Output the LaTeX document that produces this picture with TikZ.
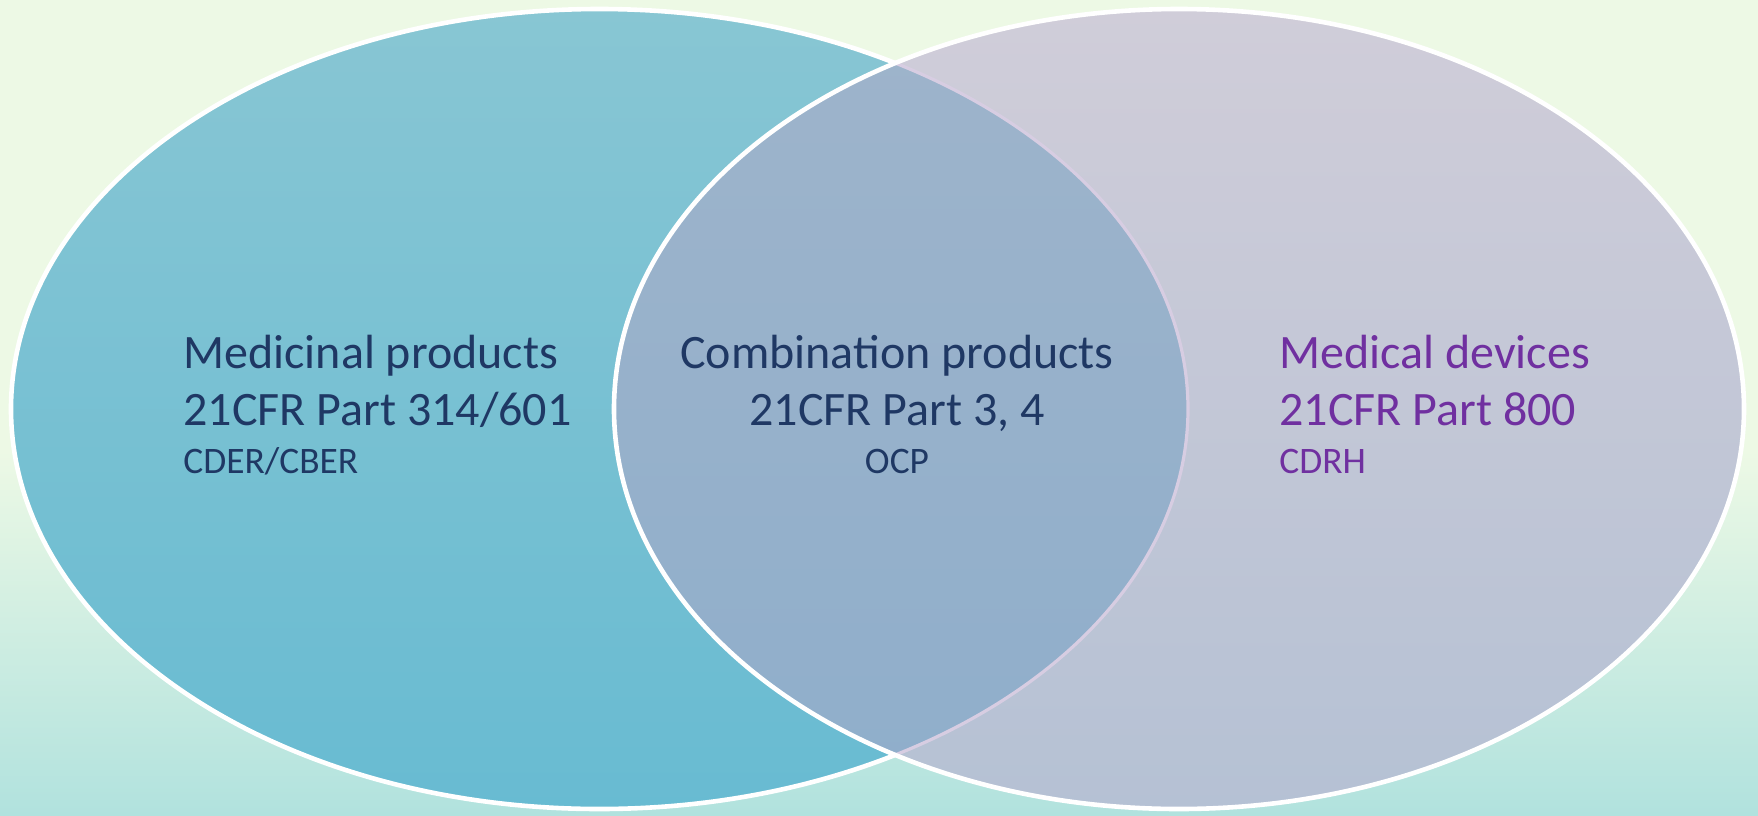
\documentclass[tikz,border=0pt]{standalone}
\usepackage{fontspec}
\setmainfont{Carlito}
\definecolor{bgtop}{HTML}{EDF9E5}
\definecolor{bgbot}{HTML}{B1E2DE}
\definecolor{drugtop}{HTML}{88C6D3}
\definecolor{drugbot}{HTML}{68BBD2}
\definecolor{devtop}{HTML}{D0CDD9}
\definecolor{devbot}{HTML}{B5C1D4}
\definecolor{combtop}{HTML}{9EB4CB}
\definecolor{combbot}{HTML}{8FAECB}
\definecolor{innerline}{HTML}{D7CDE2}
\definecolor{navytext}{HTML}{1F3864}
\definecolor{purpletext}{HTML}{7030A0}
\begin{document}
\begin{tikzpicture}[x=0.5pt,y=-0.5pt,
  ring/.style={draw=white,line width=2.3pt},
  bigline/.style={font=\fontsize{24pt}{27pt}\selectfont,inner sep=0pt},
  smallline/.style={font=\fontsize{18.7pt}{21pt}\selectfont,inner sep=0pt},
  drugtxt/.style={text=navytext,anchor=base west},
  combtxt/.style={text=navytext,anchor=base},
  devtxt/.style={text=purpletext,anchor=base west}]
\useasboundingbox (0,0) rectangle (1758,815);

% background wash
\fill[bgtop] (0,0) rectangle (1758,452);
\shade[top color=bgtop,bottom color=bgbot] (0,450) rectangle (1758,815);

% medicinal products ellipse
\shade[top color=drugtop,bottom color=drugbot]
  (599.5,409) ellipse [x radius=588.5,y radius=400];
\draw[ring] (599.5,409) ellipse [x radius=588.5,y radius=400];

% medical devices ellipse
\shade[top color=devtop,bottom color=devbot]
  (1179,409) ellipse [x radius=565,y radius=400];

% overlap region
\begin{scope}
  \clip (599.5,409) ellipse [x radius=588.5,y radius=400];
  \shade[top color=combtop,bottom color=combbot]
    (1179,409) ellipse [x radius=565,y radius=400];
\end{scope}

% left ring seen through the devices ellipse
\begin{scope}
  \clip (1179,409) ellipse [x radius=565,y radius=400];
  \draw[innerline,line width=1.6pt] (599.5,409) ellipse [x radius=588.5,y radius=400];
\end{scope}
\draw[ring] (1179,409) ellipse [x radius=565,y radius=400];

% labels
\node[bigline,drugtxt] (drug1) at (183,368) {Medicinal products};
\node[bigline,drugtxt] (drug2) at (183,425) {21CFR Part 314/601};
\node[smallline,drugtxt] (drug3) at (183,473) {CDER/CBER};

\node[bigline,combtxt] (comb1) at (897,368) {Combination products};
\node[bigline,combtxt] (comb2) at (897,425) {21CFR Part 3, 4};
\node[smallline,combtxt] (comb3) at (897,473) {OCP};

\node[bigline,devtxt] (dev1) at (1279,368) {Medical devices};
\node[bigline,devtxt] (dev2) at (1279,425) {21CFR Part 800};
\node[smallline,devtxt] (dev3) at (1279,473) {CDRH};
\end{tikzpicture}
\end{document}
